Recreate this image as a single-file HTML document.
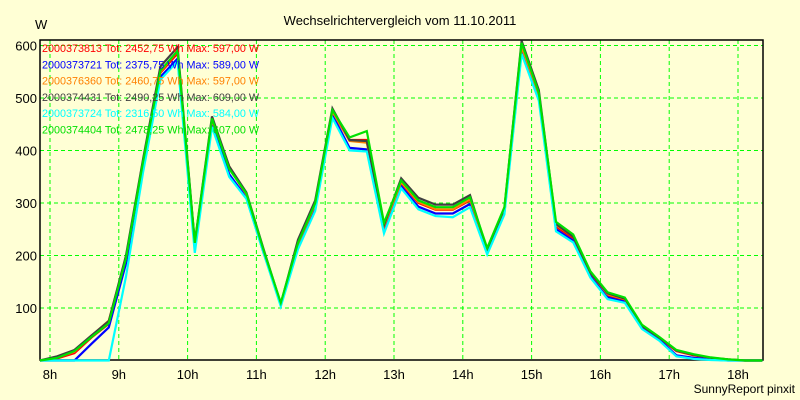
<!DOCTYPE html>
<html><head><meta charset="utf-8"><style>
body{margin:0;background:#ffffd5;}
svg{display:block;font-family:"Liberation Sans",sans-serif;}
</style></head><body>
<svg id="chart" width="800" height="400">
<rect x="0" y="0" width="800" height="400" fill="#ffffd5"/>
<text x="400" y="25" text-anchor="middle" font-size="13">Wechselrichtervergleich vom 11.10.2011</text>
<text x="35" y="29" font-size="13">W</text>
<text x="795" y="393" text-anchor="end" font-size="12">SunnyReport pinxit</text>
<g id="grid"></g>
<g id="axes"></g>
<g id="series"></g>
<g id="legend"></g>
</svg>
<script>
const startHour = 7.855;
const stepHours = 0.25;
const yTicks = [100,200,300,400,500,600];
const xTicks = [8,9,10,11,12,13,14,15,16,17,18];
const seriesNames = ["2000373813","2000373721","2000376360","2000374431","2000373724","2000374404"];
const seriesTot = ["2452,75","2375,75","2460,75","2490,25","2316,50","2478,25"];
const seriesMax = ["597,00","589,00","597,00","609,00","584,00","607,00"];
const seriesColors = ["#ff0000","#0000ff","#ff8000","#404040","#00ffff","#00e000"];
const sRed =    [0,4,14,44,70,190,378,548,585,222,455,368,315,208,107,220,295,472,420,420,255,338,300,287,287,305,210,286,597,505,255,233,165,124,115,65,43,18,10,5,1,0,0];
const sBlue =   [0,0,0,32,63,185,372,540,575,215,452,355,310,205,107,215,288,468,405,402,250,332,293,280,280,298,207,282,589,500,250,228,160,120,112,62,40,10,5,2,0,0,0];
const sOrange = [0,6,17,47,76,195,382,550,590,223,458,370,316,208,108,222,297,474,418,415,255,340,302,288,288,307,211,288,597,507,258,236,167,126,117,66,44,19,11,5,2,0,0];
const sDark =   [0,8,20,48,75,200,385,560,597,225,465,370,320,212,108,230,305,480,420,418,258,347,310,297,297,315,210,290,609,515,260,236,167,128,118,66,44,19,11,5,2,0,0];
const sCyan =   [0,0,0,0,0,160,360,535,570,205,445,350,308,205,103,212,285,462,400,398,242,328,288,275,273,292,202,278,584,495,246,225,158,117,110,60,38,8,3,1,0,0,0];
const sGreen =  [0,5,18,45,71,195,380,552,590,224,461,365,318,210,110,224,300,477,425,437,262,343,305,292,292,311,214,292,605,510,264,240,170,130,120,68,45,20,12,6,2,0,0];
const allSeries = [sRed,sBlue,sOrange,sDark,sCyan,sGreen];

const PL=40, PR=763, PT=40, PB=360;
function xs(h){return 50 + (h-8)*68.8;}
function ys(v){return 360.5 - v*0.525;}
const NS="http://www.w3.org/2000/svg";
function mk(tag,attrs,parent){const e=document.createElementNS(NS,tag);for(const k in attrs)e.setAttribute(k,attrs[k]);parent.appendChild(e);return e;}
const grid=document.getElementById('grid'), axes=document.getElementById('axes'), ser=document.getElementById('series'), leg=document.getElementById('legend');

yTicks.forEach(v=>{
  const l=mk('line',{x1:PL,x2:PR,y1:ys(v),y2:ys(v),stroke:'#00ff00','stroke-dasharray':'4,3'},grid);
  
  
  const t=mk('text',{x:37,y:ys(v)+5,'text-anchor':'end','font-size':13},axes);
  t.textContent=v;
  
  
});
xTicks.forEach(h=>{
  const l=mk('line',{x1:xs(h),x2:xs(h),y1:PT,y2:PB,stroke:'#00ff00','stroke-dasharray':'4,3'},grid);
  
  
  const t=mk('text',{x:xs(h),y:379,'text-anchor':'middle','font-size':13},axes);
  t.textContent=h+'h';
  
  
});
const frame=mk('rect',{x:PL,y:PT,width:PR-PL,height:PB-PT,fill:'none',stroke:'#000','stroke-width':1.5},axes);



allSeries.forEach((arr,i)=>{
  const pts=arr.map((v,k)=>xs(startHour+k*stepHours).toFixed(1)+','+ys(v).toFixed(1)).join(' ');
  const p=mk('polyline',{points:pts,fill:'none',stroke:seriesColors[i],'stroke-width':2.2,'stroke-linejoin':'miter'},ser);
  
  
});

seriesNames.forEach((n,i)=>{
  const t=mk('text',{x:42,y:52+i*16.3,'font-size':10.8,fill:seriesColors[i]},leg);
  t.textContent=n+' Tot: '+seriesTot[i]+' Wh Max: '+seriesMax[i]+' W';
  
  
});
</script>
</body></html>
